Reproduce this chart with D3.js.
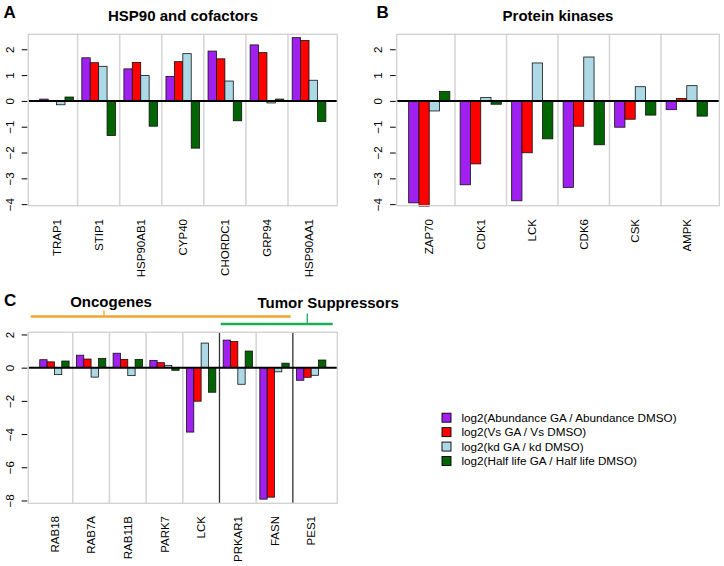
<!DOCTYPE html>
<html>
<head>
<meta charset="utf-8">
<script src="https://cdn.jsdelivr.net/npm/d3@7"></script>
<style>
  html, body { margin: 0; padding: 0; background: #fff; }
  svg { display: block; font-family: "Liberation Sans", Arial, Helvetica, sans-serif; }
</style>
</head>
<body>
<div id="chart"></div>
<script>
// ---------------- data ----------------
const seriesNames = [
  "log2(Abundance GA / Abundance DMSO)",
  "log2(Vs GA / Vs DMSO)",
  "log2(kd GA / kd DMSO)",
  "log2(Half life GA / Half life DMSO)"
];
const seriesColors = ["#a020f0", "#ff0000", "#add8e6", "#006400"];

// Panel A: HSP90 and cofactors
const genesA = ["TRAP1", "STIP1", "HSP90AB1", "CYP40", "CHORDC1", "GRP94", "HSP90AA1"];
const abundanceA = [0.07, 1.67, 1.24, 0.95, 1.93, 2.17, 2.45];
const vsA        = [0.02, 1.48, 1.49, 1.52, 1.63, 1.87, 2.34];
const kdA        = [-0.15, 1.34, 0.98, 1.83, 0.77, -0.08, 0.80];
const halfLifeA  = [0.15, -1.34, -0.98, -1.83, -0.77, 0.07, -0.80];

// Panel B: Protein kinases
const genesB = ["ZAP70", "CDK1", "LCK", "CDK6", "CSK", "AMPK"];
const abundanceB = [-3.95, -3.25, -3.87, -3.35, -1.02, -0.34];
const vsB        = [-4.08, -2.44, -2.01, -0.98, -0.71, 0.09];
const kdB        = [-0.39, 0.13, 1.47, 1.70, 0.55, 0.59];
const halfLifeB  = [0.37, -0.13, -1.47, -1.70, -0.55, -0.59];

// Panel C: Oncogenes / Tumor suppressors
const genesC = ["RAB18", "RAB7A", "RAB11B", "PARK7", "LCK", "PRKAR1", "FASN", "PES1"];
const abundanceC = [0.48, 0.75, 0.87, 0.44, -3.88, 1.66, -7.92, -0.76];
const vsC        = [0.35, 0.52, 0.50, 0.30, -2.02, 1.57, -7.80, -0.58];
const kdC        = [-0.42, -0.57, -0.48, 0.14, 1.48, -1.00, -0.25, -0.46];
const halfLifeC  = [0.40, 0.56, 0.50, -0.16, -1.48, 1.00, 0.27, 0.46];

const ticksAB = [-4, -3, -2, -1, 0, 1, 2];
const ticksC  = [-8, -6, -4, -2, 0, 2];

const titleA = "HSP90 and cofactors";
const titleB = "Protein kinases";
const groupLabels = ["Oncogenes", "Tumor Suppressors"];

// ---------------- drawing ----------------
const W = 724, H = 566;
const svg = d3.select("#chart").append("svg").attr("width", W).attr("height", H);
svg.append("rect").attr("width", W).attr("height", H).attr("fill", "#fff");

const fmt = d => d < 0 ? "\u2212" + Math.abs(d) : String(d);

function panel(opt) {
  const { genes, series, left, right, top, bottom, yDomain, ticks, darkSeps, labelEnd } = opt;
  const n = genes.length;
  const span = 5 * n - 1;
  const x = d3.scaleLinear().domain([1 - 0.04 * span, 5 * n + 0.04 * span]).range([left, right]);
  const y = d3.scaleLinear().domain(yDomain).range([bottom, top]);
  const g = svg.append("g");

  // separators
  for (let i = 1; i < n; i++) {
    const dark = darkSeps.includes(i);
    g.append("line")
      .attr("x1", x(i * 5 + 0.5)).attr("x2", x(i * 5 + 0.5))
      .attr("y1", top).attr("y2", bottom)
      .attr("stroke", dark ? "#333" : "#d6d6d6")
      .attr("stroke-width", dark ? 1.3 : 1.6);
  }

  // bars
  const data = [];
  genes.forEach((gene, i) => {
    series.forEach((vals, j) => data.push({ i, j, v: vals[i] }));
  });
  g.selectAll("rect.bar").data(data).enter().append("rect")
    .attr("class", "bar")
    .attr("x", d => x(d.i * 5 + 1 + d.j))
    .attr("width", d => x(d.i * 5 + 2 + d.j) - x(d.i * 5 + 1 + d.j))
    .attr("y", d => y(Math.max(0, d.v)))
    .attr("height", d => Math.abs(y(d.v) - y(0)))
    .attr("fill", d => seriesColors[d.j])
    .attr("stroke", "#111")
    .attr("stroke-width", 0.8);

  // zero line
  g.append("line").attr("x1", left).attr("x2", right)
    .attr("y1", y(0)).attr("y2", y(0))
    .attr("stroke", "#000").attr("stroke-width", 2);

  // box
  g.append("rect").attr("x", left).attr("y", top)
    .attr("width", right - left).attr("height", bottom - top)
    .attr("fill", "none").attr("stroke", "#d0d0d0").attr("stroke-width", 1.3);

  // y axis
  const ax = g.append("g").attr("transform", `translate(${left - 1},0)`)
    .call(d3.axisLeft(y).tickValues(ticks).tickSize(5.6).tickFormat(fmt));
  ax.select(".domain").remove();
  ax.selectAll(".tick line").attr("stroke", "#000").attr("stroke-width", 1);
  ax.selectAll(".tick text")
    .attr("x", null).attr("dy", "0.35em")
    .attr("transform", "translate(-17.3,0) rotate(-90)")
    .attr("text-anchor", "middle")
    .attr("font-size", 11.5).attr("fill", "#000")
    .attr("font-family", "Liberation Sans, Arial, sans-serif");

  // x labels
  g.selectAll("text.xl").data(genes).enter().append("text")
    .attr("class", "xl")
    .attr("transform", (d, i) => `translate(${x(i * 5 + 3)},${labelEnd}) rotate(-90)`)
    .attr("dy", "0.36em")
    .attr("text-anchor", "end")
    .attr("font-size", 11.5)
    .text(d => d);

  return { x, y };
}

panel({ genes: genesA, series: [abundanceA, vsA, kdA, halfLifeA],
  left: 28.3, right: 337.3, top: 34.3, bottom: 205.7, yDomain: [-4.06, 2.58],
  ticks: ticksAB, darkSeps: [], labelEnd: 219 });
panel({ genes: genesB, series: [abundanceB, vsB, kdB, halfLifeB],
  left: 396.7, right: 719.3, top: 34.3, bottom: 205.7, yDomain: [-4.06, 2.58],
  ticks: ticksAB, darkSeps: [], labelEnd: 219 });
panel({ genes: genesC, series: [abundanceC, vsC, kdC, halfLifeC],
  left: 28.3, right: 337.3, top: 332.3, bottom: 503.3, yDomain: [-8.17, 2.13],
  ticks: ticksC, darkSeps: [5, 7], labelEnd: 516 });

// titles and panel letters
svg.append("text").attr("x", 183).attr("y", 20.5).attr("text-anchor", "middle")
  .attr("font-size", 15).attr("font-weight", "bold").text(titleA);
svg.append("text").attr("x", 558).attr("y", 20.5).attr("text-anchor", "middle")
  .attr("font-size", 15).attr("font-weight", "bold").text(titleB);
svg.append("text").attr("x", 3.5).attr("y", 17.5).attr("font-size", 17).attr("font-weight", "bold").text("A");
svg.append("text").attr("x", 376.5).attr("y", 17.5).attr("font-size", 17).attr("font-weight", "bold").text("B");
svg.append("text").attr("x", 4).attr("y", 306).attr("font-size", 17).attr("font-weight", "bold").text("C");

// group brackets (panel C)
const orange = "#f2a52c", green = "#1aae5b";
svg.append("line").attr("x1", 30.7).attr("x2", 290.7).attr("y1", 316.5).attr("y2", 316.5)
  .attr("stroke", orange).attr("stroke-width", 2.6);
svg.append("line").attr("x1", 104).attr("x2", 104).attr("y1", 310.5).attr("y2", 316.5)
  .attr("stroke", orange).attr("stroke-width", 1.3);
svg.append("line").attr("x1", 220.7).attr("x2", 332.7).attr("y1", 324).attr("y2", 324)
  .attr("stroke", green).attr("stroke-width", 2.6);
svg.append("line").attr("x1", 307.3).attr("x2", 307.3).attr("y1", 313.5).attr("y2", 324)
  .attr("stroke", green).attr("stroke-width", 1.3);
svg.append("text").attr("x", 111).attr("y", 307).attr("text-anchor", "middle")
  .attr("font-size", 15).attr("font-weight", "bold").text(groupLabels[0]);
svg.append("text").attr("x", 257.5).attr("y", 307.5)
  .attr("font-size", 15).attr("font-weight", "bold").text(groupLabels[1]);

// legend
const leg = svg.append("g");
const legY = d3.scaleLinear().domain([0, 3]).range([417.7, 461]);
seriesNames.forEach((name, k) => {
  leg.append("rect").attr("x", 442).attr("y", legY(k) - 4.5).attr("width", 9).attr("height", 9)
    .attr("fill", seriesColors[k]).attr("stroke", "#000").attr("stroke-width", 0.9);
  leg.append("text").attr("x", 461.5).attr("y", legY(k)).attr("dy", "0.35em")
    .attr("font-size", 11.7).text(name);
});
</script>
</body>
</html>
